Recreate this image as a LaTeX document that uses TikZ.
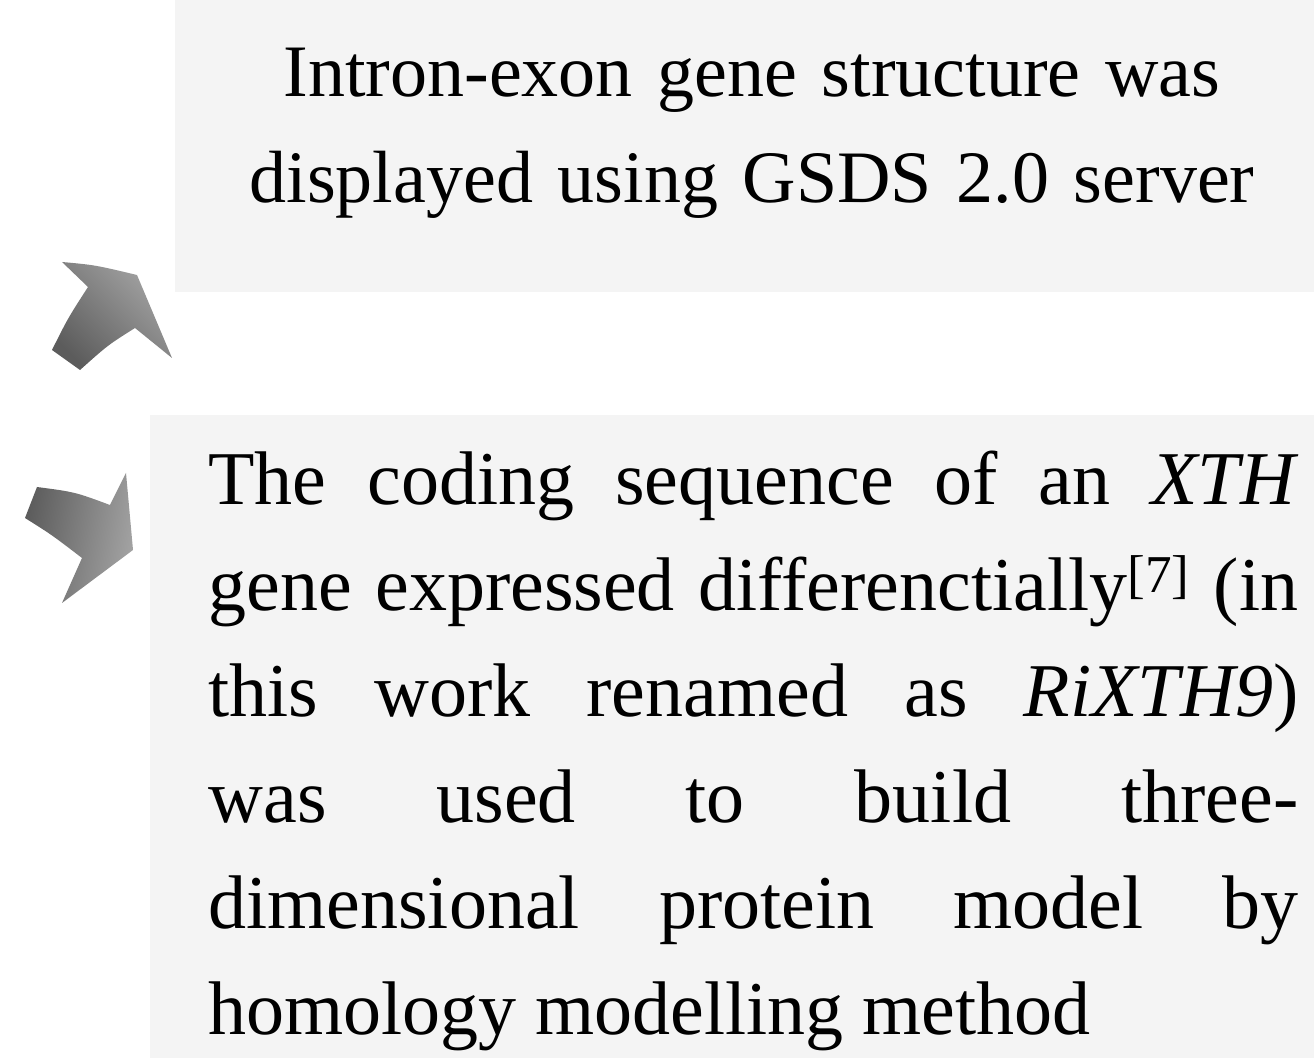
\documentclass[tikz,border=0pt]{standalone}
\usepackage{fontspec}
\setmainfont{Liberation Serif}

\definecolor{paperbg}{gray}{0.957}
\definecolor{arrowdark}{gray}{0.36}
\definecolor{arrowlight}{gray}{0.64}

\tikzset{
  bgpatch/.style={fill=paperbg, draw=none},
  chevron/.style={draw=none, left color=arrowdark, right color=arrowlight},
  toptext/.style={inner sep=0pt, anchor=base, align=center, text width=640pt,
    font=\fontsize{37pt}{53pt}\selectfont},
  bodytext/.style={inner sep=0pt, anchor=base west, align=justify, text width=545pt,
    font=\fontsize{38pt}{53pt}\selectfont}
}

\begin{document}
\begin{tikzpicture}[x=0.5pt,y=-0.5pt]

    \useasboundingbox (0,0) rectangle (1314,1058);

    % faint paper patches behind the texts
    \fill[bgpatch] (175,0) rectangle (1314,292);
    \fill[bgpatch] (150,415) rectangle (1314,1058);

    \shade[chevron, shading angle=135] (62,262) .. controls (95,265) .. (137,275) -- (172,358)
        -- (135,328) .. controls (108,345) .. (80,370) -- (52,350) .. controls (68,318) .. (88,287) -- cycle; %up
    \shade[chevron, shading angle=80] (37,487) .. controls (75,492) .. (110,505) -- (126,473)
        -- (133,550) -- (62,603) -- (82,558) .. controls (52,535) .. (25,518) -- cycle; %down

    \node[toptext] (gsds) at (752,97) {Intron-exon gene structure was\\displayed using GSDS 2.0 server};

    \node[bodytext] (xth) at (208,505) {The coding sequence of an \textit{XTH}\linebreak
        gene expressed differenctially\textsuperscript{[7]} (in\linebreak
        this work renamed as \textit{RiXTH9})\linebreak
        was used to build three-\linebreak
        dimensional protein model by\linebreak
        homology modelling method};

\end{tikzpicture}
\end{document}
